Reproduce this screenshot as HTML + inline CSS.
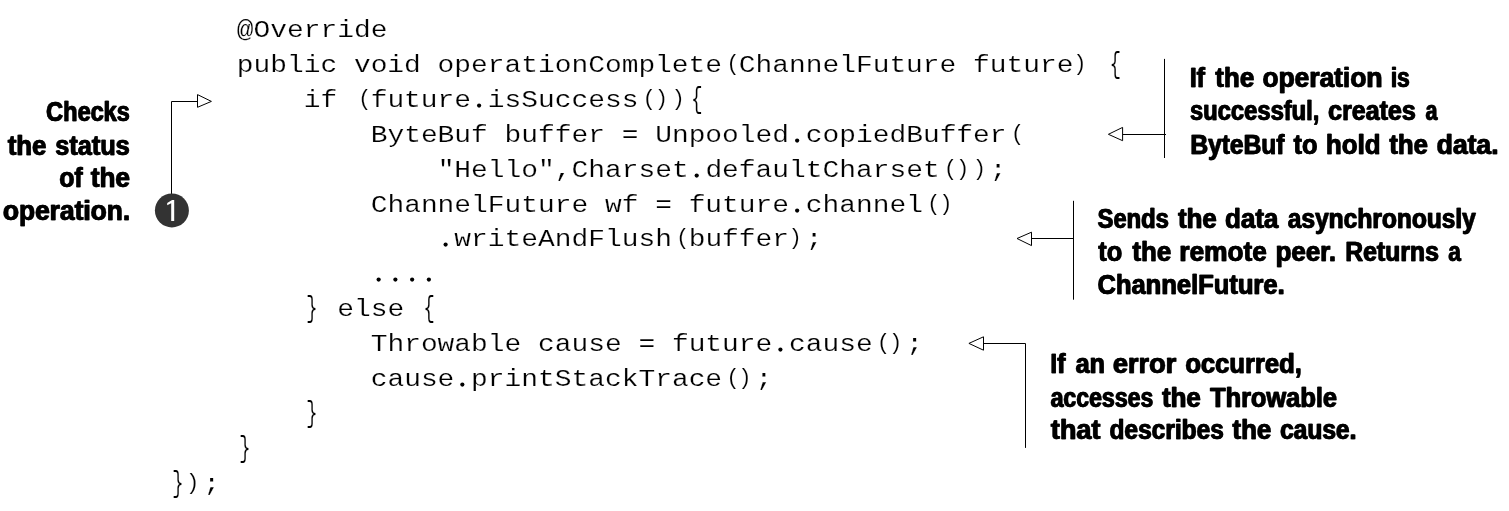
<!DOCTYPE html>
<html><head><meta charset="utf-8"><title>listing</title>
<style>
html,body{margin:0;padding:0;background:#fff;}
body{width:1509px;height:511px;overflow:hidden;}
svg{display:block;filter:grayscale(1);}
.c{font-family:"Liberation Mono",monospace;font-size:27.900px;fill:#000;white-space:pre;stroke:#fff;stroke-width:0.2px;paint-order:fill stroke;}
.a{font-family:"Liberation Sans",sans-serif;font-weight:bold;font-size:28.2px;fill:#000;stroke:#000;stroke-width:0.5px;stroke-linejoin:round;}
.l{stroke:#000;stroke-width:1;fill:none;}
.t{stroke:#000;stroke-width:1;fill:#fff;stroke-linejoin:miter;}
</style></head><body>
<svg width="1509" height="511" viewBox="0 0 1509 511">
<rect width="1509" height="511" fill="#fff"/>

<text class="c" xml:space="preserve" transform="translate(236.76,37.00) scale(1,0.880)">@Override</text>
<text class="c" xml:space="preserve" transform="translate(236.76,72.00) scale(1,0.880)">public void operationComplete ChannelFuture future   </text>
<text class="c" text-anchor="middle" transform="translate(732.89,70.35) scale(0.800,0.800)">(</text>
<text class="c" text-anchor="middle" transform="translate(1079.83,70.35) scale(0.800,0.800)">)</text>
<text class="c" text-anchor="middle" transform="translate(1115.41,72.60) scale(0.700,1.035)">{</text>
<circle cx="479.09" cy="105.60" r="2.1" fill="#000"/>
<text class="c" xml:space="preserve" transform="translate(303.72,107.00) scale(1,0.880)">if  future isSuccess    </text>
<text class="c" text-anchor="middle" transform="translate(364.61,105.35) scale(0.800,0.800)">(</text>
<text class="c" text-anchor="middle" transform="translate(649.19,105.35) scale(0.800,0.800)">(</text>
<text class="c" text-anchor="middle" transform="translate(661.33,105.35) scale(0.800,0.800)">)</text>
<text class="c" text-anchor="middle" transform="translate(678.07,105.35) scale(0.800,0.800)">)</text>
<text class="c" text-anchor="middle" transform="translate(696.91,107.60) scale(0.700,1.035)">{</text>
<circle cx="797.15" cy="140.60" r="2.1" fill="#000"/>
<text class="c" xml:space="preserve" transform="translate(370.68,142.00) scale(1,0.880)">ByteBuf buffer = Unpooled copiedBuffer </text>
<text class="c" text-anchor="middle" transform="translate(1017.47,140.35) scale(0.800,0.800)">(</text>
<circle cx="696.71" cy="175.60" r="2.1" fill="#000"/>
<text class="c" xml:space="preserve" transform="translate(437.64,177.00) scale(1,0.880)">&quot;Hello&quot;,Charset defaultCharset   ;</text>
<text class="c" text-anchor="middle" transform="translate(950.51,175.35) scale(0.800,0.800)">(</text>
<text class="c" text-anchor="middle" transform="translate(962.65,175.35) scale(0.800,0.800)">)</text>
<text class="c" text-anchor="middle" transform="translate(979.39,175.35) scale(0.800,0.800)">)</text>
<circle cx="797.15" cy="210.60" r="2.1" fill="#000"/>
<text class="c" xml:space="preserve" transform="translate(370.68,212.00) scale(1,0.880)">ChannelFuture wf = future channel  </text>
<text class="c" text-anchor="middle" transform="translate(933.77,210.35) scale(0.800,0.800)">(</text>
<text class="c" text-anchor="middle" transform="translate(945.91,210.35) scale(0.800,0.800)">)</text>
<circle cx="445.61" cy="244.60" r="2.1" fill="#000"/>
<text class="c" xml:space="preserve" transform="translate(437.64,246.00) scale(1,0.880)"> writeAndFlush buffer ;</text>
<text class="c" text-anchor="middle" transform="translate(682.67,244.35) scale(0.800,0.800)">(</text>
<text class="c" text-anchor="middle" transform="translate(795.25,244.35) scale(0.800,0.800)">)</text>
<circle cx="378.65" cy="279.60" r="2.1" fill="#000"/>
<circle cx="395.39" cy="279.60" r="2.1" fill="#000"/>
<circle cx="412.13" cy="279.60" r="2.1" fill="#000"/>
<circle cx="428.87" cy="279.60" r="2.1" fill="#000"/>
<text class="c" xml:space="preserve" transform="translate(303.72,316.00) scale(1,0.880)">  else  </text>
<text class="c" text-anchor="middle" transform="translate(311.89,316.60) scale(0.700,1.035)">}</text>
<text class="c" text-anchor="middle" transform="translate(429.07,316.60) scale(0.700,1.035)">{</text>
<circle cx="780.41" cy="349.60" r="2.1" fill="#000"/>
<text class="c" xml:space="preserve" transform="translate(370.68,351.00) scale(1,0.880)">Throwable cause = future cause  ;</text>
<text class="c" text-anchor="middle" transform="translate(883.55,349.35) scale(0.800,0.800)">(</text>
<text class="c" text-anchor="middle" transform="translate(895.69,349.35) scale(0.800,0.800)">)</text>
<circle cx="462.35" cy="384.60" r="2.1" fill="#000"/>
<text class="c" xml:space="preserve" transform="translate(370.68,386.00) scale(1,0.880)">cause printStackTrace  ;</text>
<text class="c" text-anchor="middle" transform="translate(732.89,384.35) scale(0.800,0.800)">(</text>
<text class="c" text-anchor="middle" transform="translate(745.03,384.35) scale(0.800,0.800)">)</text>
<text class="c" text-anchor="middle" transform="translate(311.89,421.60) scale(0.700,1.035)">}</text>
<text class="c" text-anchor="middle" transform="translate(244.93,456.60) scale(0.700,1.035)">}</text>
<text class="c" xml:space="preserve" transform="translate(169.80,491.00) scale(1,0.880)">  ;</text>
<text class="c" text-anchor="middle" transform="translate(177.97,491.60) scale(0.700,1.035)">}</text>
<text class="c" text-anchor="middle" transform="translate(192.61,489.35) scale(0.800,0.800)">)</text>
<text class="a" x="45.85" y="121.40" textLength="83.64" lengthAdjust="spacingAndGlyphs">Checks</text>
<text class="a" x="46.55" y="121.40" textLength="83.64" lengthAdjust="spacingAndGlyphs">Checks</text>
<text class="a" x="7.54" y="154.60" textLength="38.41" lengthAdjust="spacingAndGlyphs">the</text>
<text class="a" x="8.24" y="154.60" textLength="38.41" lengthAdjust="spacingAndGlyphs">the</text>
<text class="a" x="54.89" y="154.60" textLength="74.59" lengthAdjust="spacingAndGlyphs">status</text>
<text class="a" x="55.59" y="154.60" textLength="74.59" lengthAdjust="spacingAndGlyphs">status</text>
<text class="a" x="58.99" y="187.40" textLength="23.29" lengthAdjust="spacingAndGlyphs">of</text>
<text class="a" x="59.69" y="187.40" textLength="23.29" lengthAdjust="spacingAndGlyphs">of</text>
<text class="a" x="90.44" y="187.40" textLength="39.14" lengthAdjust="spacingAndGlyphs">the</text>
<text class="a" x="91.14" y="187.40" textLength="39.14" lengthAdjust="spacingAndGlyphs">the</text>
<text class="a" x="2.58" y="220.40" textLength="127.21" lengthAdjust="spacingAndGlyphs">operation.</text>
<text class="a" x="3.28" y="220.40" textLength="127.21" lengthAdjust="spacingAndGlyphs">operation.</text>
<text class="a" x="1189.45" y="86.80" textLength="15.06" lengthAdjust="spacingAndGlyphs">If</text>
<text class="a" x="1190.15" y="86.80" textLength="15.06" lengthAdjust="spacingAndGlyphs">If</text>
<text class="a" x="1214.92" y="86.80" textLength="39.00" lengthAdjust="spacingAndGlyphs">the</text>
<text class="a" x="1215.62" y="86.80" textLength="39.00" lengthAdjust="spacingAndGlyphs">the</text>
<text class="a" x="1262.16" y="86.80" textLength="119.94" lengthAdjust="spacingAndGlyphs">operation</text>
<text class="a" x="1262.86" y="86.80" textLength="119.94" lengthAdjust="spacingAndGlyphs">operation</text>
<text class="a" x="1390.54" y="86.80" textLength="18.80" lengthAdjust="spacingAndGlyphs">is</text>
<text class="a" x="1391.24" y="86.80" textLength="18.80" lengthAdjust="spacingAndGlyphs">is</text>
<text class="a" x="1189.65" y="119.60" textLength="129.35" lengthAdjust="spacingAndGlyphs">successful,</text>
<text class="a" x="1190.35" y="119.60" textLength="129.35" lengthAdjust="spacingAndGlyphs">successful,</text>
<text class="a" x="1327.79" y="119.60" textLength="87.56" lengthAdjust="spacingAndGlyphs">creates</text>
<text class="a" x="1328.49" y="119.60" textLength="87.56" lengthAdjust="spacingAndGlyphs">creates</text>
<text class="a" x="1425.18" y="119.60" textLength="11.75" lengthAdjust="spacingAndGlyphs">a</text>
<text class="a" x="1425.88" y="119.60" textLength="11.75" lengthAdjust="spacingAndGlyphs">a</text>
<text class="a" x="1190.06" y="153.70" textLength="94.01" lengthAdjust="spacingAndGlyphs">ByteBuf</text>
<text class="a" x="1190.76" y="153.70" textLength="94.01" lengthAdjust="spacingAndGlyphs">ByteBuf</text>
<text class="a" x="1293.17" y="153.70" textLength="24.06" lengthAdjust="spacingAndGlyphs">to</text>
<text class="a" x="1293.87" y="153.70" textLength="24.06" lengthAdjust="spacingAndGlyphs">to</text>
<text class="a" x="1325.60" y="153.70" textLength="54.60" lengthAdjust="spacingAndGlyphs">hold</text>
<text class="a" x="1326.30" y="153.70" textLength="54.60" lengthAdjust="spacingAndGlyphs">hold</text>
<text class="a" x="1389.10" y="153.70" textLength="38.35" lengthAdjust="spacingAndGlyphs">the</text>
<text class="a" x="1389.80" y="153.70" textLength="38.35" lengthAdjust="spacingAndGlyphs">the</text>
<text class="a" x="1436.27" y="153.70" textLength="62.01" lengthAdjust="spacingAndGlyphs">data.</text>
<text class="a" x="1436.97" y="153.70" textLength="62.01" lengthAdjust="spacingAndGlyphs">data.</text>
<text class="a" x="1097.33" y="228.40" textLength="71.16" lengthAdjust="spacingAndGlyphs">Sends</text>
<text class="a" x="1098.03" y="228.40" textLength="71.16" lengthAdjust="spacingAndGlyphs">Sends</text>
<text class="a" x="1177.82" y="228.40" textLength="38.52" lengthAdjust="spacingAndGlyphs">the</text>
<text class="a" x="1178.52" y="228.40" textLength="38.52" lengthAdjust="spacingAndGlyphs">the</text>
<text class="a" x="1224.63" y="228.40" textLength="53.46" lengthAdjust="spacingAndGlyphs">data</text>
<text class="a" x="1225.33" y="228.40" textLength="53.46" lengthAdjust="spacingAndGlyphs">data</text>
<text class="a" x="1287.41" y="228.40" textLength="188.11" lengthAdjust="spacingAndGlyphs">asynchronously</text>
<text class="a" x="1288.11" y="228.40" textLength="188.11" lengthAdjust="spacingAndGlyphs">asynchronously</text>
<text class="a" x="1097.92" y="261.10" textLength="24.04" lengthAdjust="spacingAndGlyphs">to</text>
<text class="a" x="1098.62" y="261.10" textLength="24.04" lengthAdjust="spacingAndGlyphs">to</text>
<text class="a" x="1132.02" y="261.10" textLength="38.81" lengthAdjust="spacingAndGlyphs">the</text>
<text class="a" x="1132.72" y="261.10" textLength="38.81" lengthAdjust="spacingAndGlyphs">the</text>
<text class="a" x="1179.07" y="261.10" textLength="87.41" lengthAdjust="spacingAndGlyphs">remote</text>
<text class="a" x="1179.77" y="261.10" textLength="87.41" lengthAdjust="spacingAndGlyphs">remote</text>
<text class="a" x="1275.30" y="261.10" textLength="60.34" lengthAdjust="spacingAndGlyphs">peer.</text>
<text class="a" x="1276.00" y="261.10" textLength="60.34" lengthAdjust="spacingAndGlyphs">peer.</text>
<text class="a" x="1344.91" y="261.10" textLength="93.58" lengthAdjust="spacingAndGlyphs">Returns</text>
<text class="a" x="1345.61" y="261.10" textLength="93.58" lengthAdjust="spacingAndGlyphs">Returns</text>
<text class="a" x="1447.89" y="261.10" textLength="12.69" lengthAdjust="spacingAndGlyphs">a</text>
<text class="a" x="1448.59" y="261.10" textLength="12.69" lengthAdjust="spacingAndGlyphs">a</text>
<text class="a" x="1097.14" y="294.20" textLength="187.17" lengthAdjust="spacingAndGlyphs">ChannelFuture.</text>
<text class="a" x="1097.84" y="294.20" textLength="187.17" lengthAdjust="spacingAndGlyphs">ChannelFuture.</text>
<text class="a" x="1049.88" y="372.90" textLength="15.31" lengthAdjust="spacingAndGlyphs">If</text>
<text class="a" x="1050.58" y="372.90" textLength="15.31" lengthAdjust="spacingAndGlyphs">If</text>
<text class="a" x="1075.25" y="372.90" textLength="29.31" lengthAdjust="spacingAndGlyphs">an</text>
<text class="a" x="1075.95" y="372.90" textLength="29.31" lengthAdjust="spacingAndGlyphs">an</text>
<text class="a" x="1112.45" y="372.90" textLength="63.46" lengthAdjust="spacingAndGlyphs">error</text>
<text class="a" x="1113.15" y="372.90" textLength="63.46" lengthAdjust="spacingAndGlyphs">error</text>
<text class="a" x="1184.97" y="372.90" textLength="116.56" lengthAdjust="spacingAndGlyphs">occurred,</text>
<text class="a" x="1185.67" y="372.90" textLength="116.56" lengthAdjust="spacingAndGlyphs">occurred,</text>
<text class="a" x="1050.22" y="406.50" textLength="102.81" lengthAdjust="spacingAndGlyphs">accesses</text>
<text class="a" x="1050.92" y="406.50" textLength="102.81" lengthAdjust="spacingAndGlyphs">accesses</text>
<text class="a" x="1161.78" y="406.50" textLength="38.63" lengthAdjust="spacingAndGlyphs">the</text>
<text class="a" x="1162.48" y="406.50" textLength="38.63" lengthAdjust="spacingAndGlyphs">the</text>
<text class="a" x="1209.76" y="406.50" textLength="126.86" lengthAdjust="spacingAndGlyphs">Throwable</text>
<text class="a" x="1210.46" y="406.50" textLength="126.86" lengthAdjust="spacingAndGlyphs">Throwable</text>
<text class="a" x="1050.60" y="439.00" textLength="49.49" lengthAdjust="spacingAndGlyphs">that</text>
<text class="a" x="1051.30" y="439.00" textLength="49.49" lengthAdjust="spacingAndGlyphs">that</text>
<text class="a" x="1109.15" y="439.00" textLength="114.38" lengthAdjust="spacingAndGlyphs">describes</text>
<text class="a" x="1109.85" y="439.00" textLength="114.38" lengthAdjust="spacingAndGlyphs">describes</text>
<text class="a" x="1232.09" y="439.00" textLength="38.93" lengthAdjust="spacingAndGlyphs">the</text>
<text class="a" x="1232.79" y="439.00" textLength="38.93" lengthAdjust="spacingAndGlyphs">the</text>
<text class="a" x="1279.73" y="439.00" textLength="76.30" lengthAdjust="spacingAndGlyphs">cause.</text>
<text class="a" x="1280.43" y="439.00" textLength="76.30" lengthAdjust="spacingAndGlyphs">cause.</text>
<path class="l" d="M171.5 194 V101.5 H197.5"/>
<path class="t" d="M197.5 94.6 L211.4 101.4 L197.5 107.3 Z"/>
<circle cx="171.9" cy="210.4" r="17" fill="#333"/>
<path d="M171.2 221 V203.2 L167.2 205.3 V202.9 L172.1 200 H174.2 V221 Z" fill="#fff"/>
<path class="l" d="M1164.5 58.9 V158"/>
<path class="l" d="M1166 134.5 H1122.6"/>
<path class="t" d="M1122.6 127.4 L1108.4 134.3 L1122.6 140.7 Z"/>
<path class="l" d="M1073.5 200.8 V299.7"/>
<path class="l" d="M1074 238.5 H1031.5"/>
<path class="t" d="M1031.5 232.2 L1017 238.5 L1031.5 245.6 Z"/>
<path class="l" d="M1025.5 447.9 V343.5 H983.5"/>
<path class="t" d="M983.5 336.8 L968.9 343.4 L983.5 350.2 Z"/>
</svg>
</body></html>
